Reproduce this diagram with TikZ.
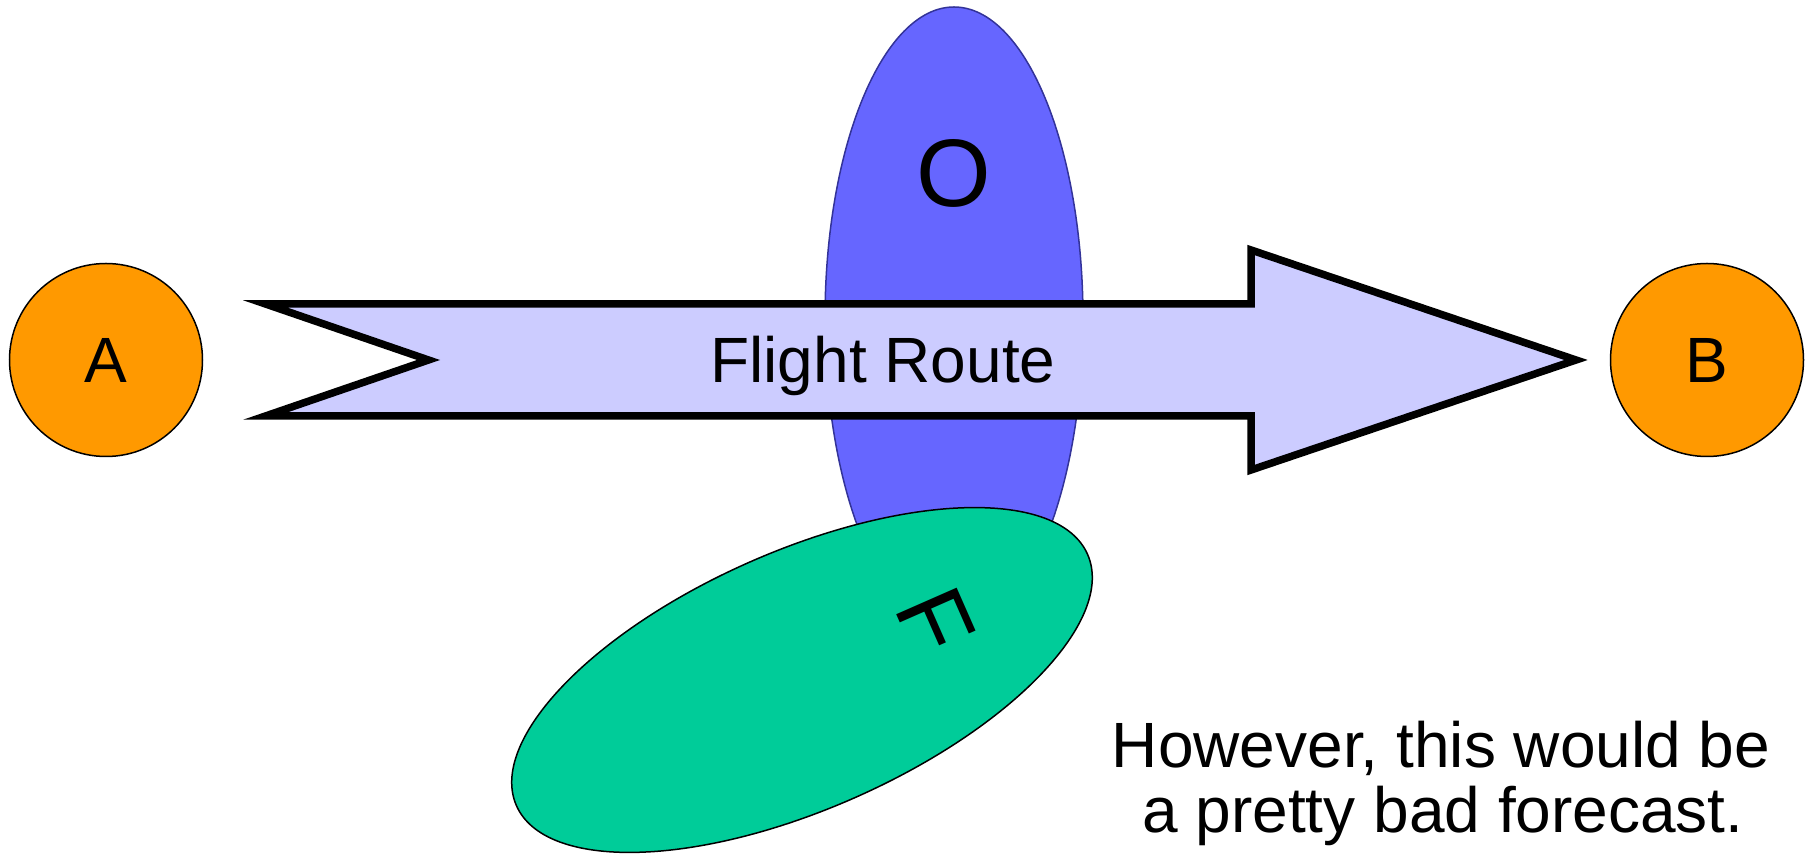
\documentclass[tikz,border=0pt]{standalone}
\usepackage{fontspec}
\setmainfont{Liberation Sans}
\definecolor{cityorange}{HTML}{FF9900}
\definecolor{oblue}{HTML}{6666FF}
\definecolor{oedge}{HTML}{333399}
\definecolor{routefill}{HTML}{CCCCFF}
\definecolor{fgreen}{HTML}{00CC99}
\tikzset{
  city/.style={circle, draw=black, line width=1.5pt, fill=cityorange, minimum size=193pt, inner sep=0pt, font=\fontsize{64}{77}\selectfont},
  route/.style={draw=black, line width=7.5pt, fill=routefill, line join=miter, miter limit=10},
  obs/.style={draw=oedge, line width=1.5pt, fill=oblue},
  fcst/.style={draw=black, line width=1.5pt, fill=fgreen},
  biglabel/.style={inner sep=0pt, font=\fontsize{96}{115}\selectfont},
  txt/.style={inner sep=0pt, anchor=base, font=\fontsize{64}{65}\selectfont}
}
\begin{document}
\begin{tikzpicture}[x=1pt,y=1pt]
\useasboundingbox (0,0) rectangle (1808,854);
% observation ellipse
\draw[obs] (954,535) ellipse [x radius=129, y radius=312];
\node[biglabel] (olab) at (954,681) {O};
% forecast ellipse
\draw[fcst, rotate around={-66.25:(802,174)}] (802,174) ellipse [x radius=129, y radius=312];
\node[biglabel, rotate=-66.25] (flab) at (935.6,232.8) {F};
% flight route arrow
\draw[route] (265.5,550) -- (1251,550) -- (1251,604) -- (1576,494) -- (1251,384) -- (1251,438) -- (265.5,438) -- (428.5,494) -- cycle;
\node[inner sep=0pt, anchor=base, font=\fontsize{64}{77}\selectfont] (route) at (883,471) {Flight Route};
% cities
\node[city] (A) at (106,494) {A};
\node[city] (B) at (1707,494) {B};
% comment
\node[txt] (line1) at (1441,86) {However, this would be};
\node[txt] (line2) at (1443,21) {a pretty bad forecast.};
\end{tikzpicture}
\end{document}
